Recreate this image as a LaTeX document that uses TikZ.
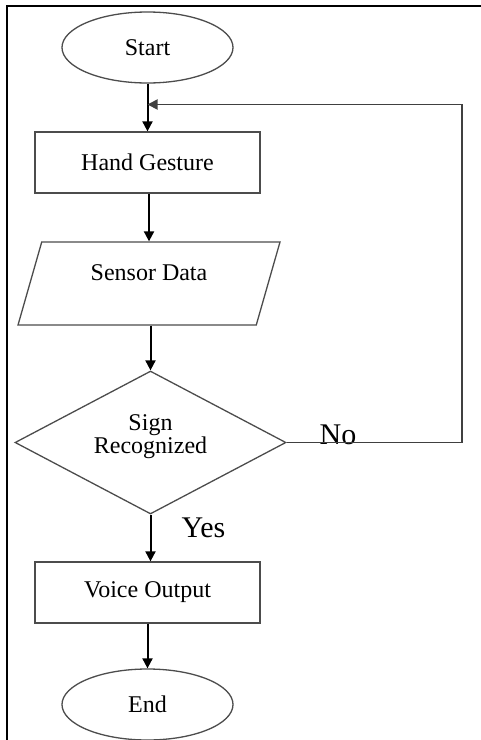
\documentclass[tikz,border=0pt]{standalone}
\usepackage{fontspec}
\setmainfont{Liberation Serif}
\usetikzlibrary{shapes.geometric}
\usetikzlibrary{arrows.meta}

\begin{document}
\begin{tikzpicture}[x=0.5pt,y=-0.5pt,
 every node/.style={font=\fontsize{12}{11.5}\selectfont},
 term/.style={draw=black!70,line width=0.65pt,ellipse,minimum width=85.5pt,minimum height=35.5pt,inner sep=0pt},
 proc/.style={draw=black!70,line width=0.65pt,rectangle,minimum width=112.5pt,minimum height=30.5pt,inner sep=0pt},
 io/.style={draw=black!70,line width=0.65pt,trapezium,trapezium left angle=58,trapezium right angle=122,trapezium stretches body,minimum width=131pt,minimum height=41.5pt,inner sep=0pt},
 dec/.style={draw=black!70,line width=0.65pt,diamond,aspect=1.9,minimum width=135.5pt,minimum height=71.5pt,inner sep=0pt,align=center},
 flow/.style={draw=black,line width=1pt,-{Triangle[length=5pt,width=5pt]}},
 tag/.style={font=\fontsize{15}{15}\selectfont}]
 \useasboundingbox (0,0) rectangle (481,740);
 \draw[line width=1pt] (7,740) -- (7,6) -- (481,6);
 \node[term] (start) at (147.5,47.5) {Start};
 \node[proc] (hand) at (147.5,162.5) {Hand Gesture};
 \node[io,text height=8pt,text depth=11pt] (sensor) at (149,283.5) {Sensor Data};
 \node[dec,text height=20pt,text depth=9.5pt] (sign) at (150.5,442.5) {Sign\\Recognized};
 \node[proc] (voice) at (147.5,592.5) {Voice Output};
 \node[term] (end) at (147.5,704.5) {End};
 \node[tag] (no) at (338,435) {No};
 \node[tag] (yes) at (203.5,528) {Yes};
 \coordinate (merge) at (147.5,104.5);
 \coordinate (corner) at (462,104.5);
 \draw[flow] (start) -- (hand);
 \draw[flow] (hand.south -| sensor.north) -- (sensor.north);
 \draw[flow] (sensor.south -| sign.north) -- (sign.north);
 \draw[flow] (sign.south) -- (sign.south |- voice.north);
 \draw[flow] (voice) -- (end);
 \draw[flow,draw=black!75,line width=0.9pt] (sign.east) -| (corner) -- (merge);
\end{tikzpicture}
\end{document}
